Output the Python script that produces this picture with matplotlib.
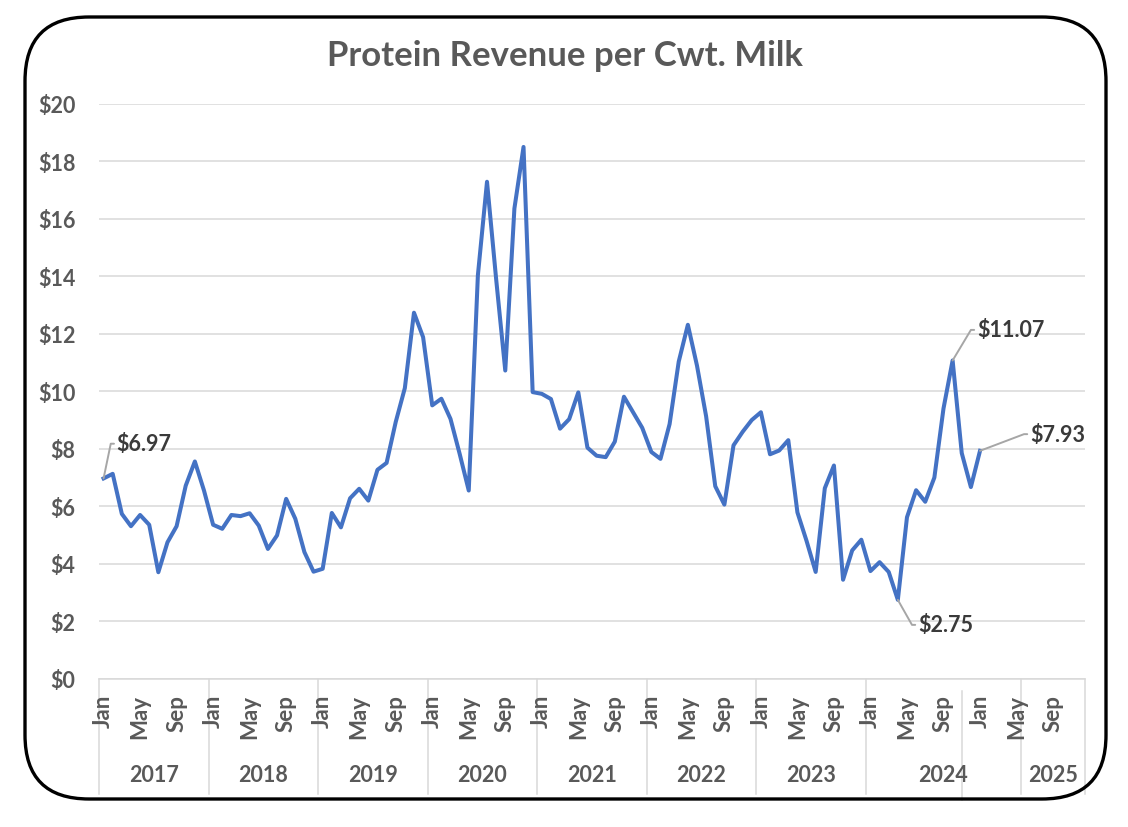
import matplotlib
matplotlib.use('Agg')
import matplotlib.pyplot as plt
from matplotlib.patches import FancyBboxPatch
from matplotlib.transforms import IdentityTransform, blended_transform_factory

# monthly protein revenue, $ per cwt
rev_2017 = [6.97, 7.13, 5.74, 5.31, 5.70, 5.36, 3.71, 4.75, 5.31, 6.72, 7.56, 6.55]
rev_2018 = [5.36, 5.22, 5.70, 5.66, 5.76, 5.33, 4.52, 4.99, 6.26, 5.57, 4.41, 3.73]
rev_2019 = [3.83, 5.77, 5.27, 6.28, 6.61, 6.20, 7.27, 7.51, 8.93, 10.11, 12.73, 11.88]
rev_2020 = [9.51, 9.74, 9.04, 7.83, 6.55, 14.03, 17.28, 13.90, 10.72, 16.35, 18.49, 9.97]
rev_2021 = [9.91, 9.73, 8.70, 9.03, 9.96, 8.04, 7.76, 7.71, 8.25, 9.81, 9.27, 8.73]
rev_2022 = [7.89, 7.65, 8.86, 11.03, 12.31, 10.89, 9.13, 6.70, 6.06, 8.12, 8.59, 9.00]
rev_2023 = [9.27, 7.81, 7.94, 8.30, 5.79, 4.80, 3.72, 6.63, 7.42, 3.45, 4.47, 4.84]
rev_2024 = [3.75, 4.06, 3.72, 2.75, 5.62, 6.56, 6.16, 7.00, 9.40, 11.07, 7.85, 6.67]
rev_2025 = [7.93]

months = ['Jan', 'Feb', 'Mar', 'Apr', 'May', 'Jun',
          'Jul', 'Aug', 'Sep', 'Oct', 'Nov', 'Dec']
# (label, first month index, last month index) of the year groups on the axis
year_groups = [('2017', 0, 11), ('2018', 12, 23), ('2019', 24, 35),
               ('2020', 36, 47), ('2021', 48, 59), ('2022', 60, 71),
               ('2023', 72, 83), ('2024', 84, 100), ('2025', 101, 107)]
n_categories = 108

labelled = [(6.97, 0), (11.07, 93), (7.93, 96), (2.75, 87)]
label_offsets = [(9.5, 25), (17.5, 22), (36, 12), (14.5, -18)]


def main():
    values = (rev_2017 + rev_2018 + rev_2019 + rev_2020 + rev_2021 +
              rev_2022 + rev_2023 + rev_2024 + rev_2025)
    xs = list(range(len(values)))

    plt.rcParams['font.family'] = ['Lato', 'DejaVu Sans']
    gray = '#595959'

    fig = plt.figure(figsize=(11.28, 8.28), dpi=100)
    fig.patch.set_facecolor('white')
    ax = fig.add_axes([99 / 1128, 148 / 828, 986 / 1128, 575.5 / 828])

    ax.plot(xs, values, color='#4472C4', linewidth=2.9, solid_joinstyle='round',
            zorder=3)

    ax.set_xlim(-0.5, n_categories - 0.5)
    ax.set_ylim(0, 20)
    ax.set_yticks(range(0, 21, 2))
    ax.set_yticklabels(['$%d' % v for v in range(0, 21, 2)],
                       fontsize=15.5, fontweight='bold', color=gray)
    ax.grid(axis='y', color='#D9D9D9', linewidth=1.1)
    ax.set_axisbelow(True)
    for side in ['top', 'right', 'left']:
        ax.spines[side].set_visible(False)
    ax.spines['bottom'].set_color('#D9D9D9')
    ax.spines['bottom'].set_linewidth(1.1)
    ax.tick_params(axis='y', length=0, pad=17)
    ax.set_xticks([])

    trans = blended_transform_factory(ax.transData, ax.transAxes)

    # month labels every four months, as on the category axis
    for i in range(0, n_categories, 4):
        ax.text(i, -0.026, months[i % 12], transform=trans, rotation=90,
                ha='center', va='top', fontsize=16, fontweight='bold',
                color=gray)

    bounds = sorted(set([g[1] - 0.5 for g in year_groups] + [n_categories - 0.5]))
    for b in bounds:
        ax.plot([b, b], [0, -0.2], color='#D9D9D9', linewidth=1.1,
                transform=trans, clip_on=False)
    ax.plot([94.0, 94.0], [-0.02, -0.21], color='#D9D9D9', linewidth=1.1,
            transform=trans, clip_on=False)
    for name, first, last in year_groups:
        ax.text((first + last) / 2.0, -0.166, name, transform=trans,
                ha='center', va='center', fontsize=15.5, fontweight='bold',
                color=gray)

    for (val, idx), off in zip(labelled, label_offsets):
        ax.annotate('$%.2f' % val, xy=(idx, val), xytext=off,
                    textcoords='offset points', ha='left', va='center',
                    fontsize=15.5, fontweight='bold', color='#3A3A3A',
                    arrowprops=dict(arrowstyle='-', color='#A6A6A6', lw=1.4,
                                    shrinkA=0, shrinkB=0, relpos=(0, 0.5),
                                    connectionstyle='arc,angleA=180,angleB=0,'
                                                    'armA=6,armB=0,rad=0'))

    fig.text(565 / 1128, 1 - 56 / 828, 'Protein Revenue per Cwt. Milk',
             ha='center', va='center', fontsize=25, fontweight='bold',
             color=gray)

    border = FancyBboxPatch((25, 28), 1081, 782,
                            boxstyle='round,pad=0,rounding_size=64',
                            transform=IdentityTransform(), fill=False,
                            edgecolor='black', linewidth=2.4)
    fig.add_artist(border)

    fig.savefig('out.png', dpi=100)
    plt.close(fig)


if __name__ == '__main__':
    main()
